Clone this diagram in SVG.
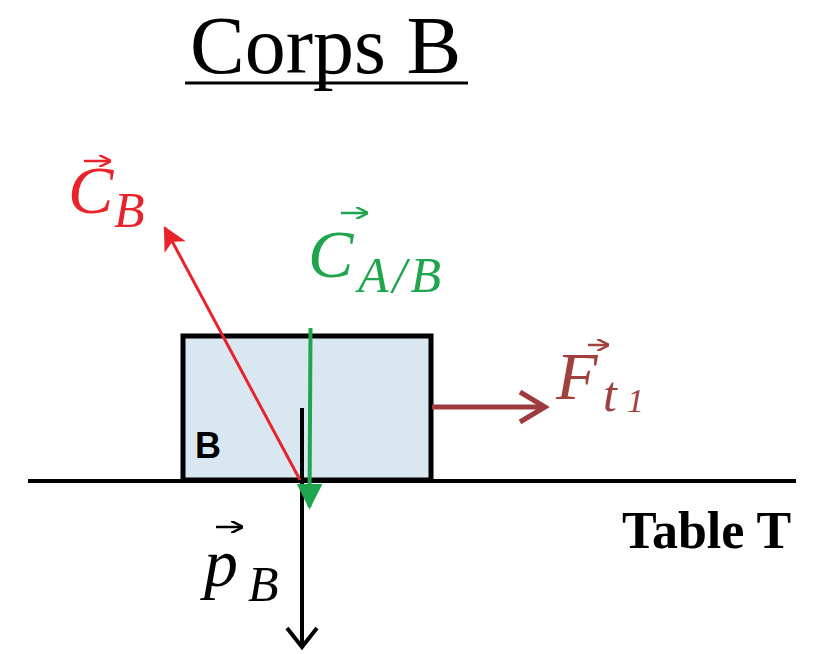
<svg xmlns="http://www.w3.org/2000/svg" width="830" height="654" viewBox="0 0 830 654">
<defs>
<style>
.math{font-family:"Liberation Serif","Times New Roman",serif;font-style:italic}
.red{fill:#e8232b}
.green{fill:#1fa54e}
.brown{fill:#a0403f}
</style>
<marker id="headRed" viewBox="0 0 10 10" refX="9" refY="5" markerWidth="8" markerHeight="8" orient="auto" markerUnits="strokeWidth">
<path d="M0,0 L10,5 L0,10 L2.5,5 Z" fill="#e8232b"/>
</marker>
<marker id="headGreen" viewBox="0 0 10 10" refX="9" refY="5" markerWidth="6.5" markerHeight="6.5" orient="auto" markerUnits="strokeWidth">
<path d="M0,0 L10,5 L0,10 Z" fill="#1fa54e"/>
</marker>
<marker id="vec" viewBox="0 0 10 10" refX="9" refY="5" markerWidth="5" markerHeight="5" orient="auto" markerUnits="strokeWidth">
<path d="M0,0 L10,5 L0,10" fill="none" stroke="context-stroke" stroke-width="2"/>
</marker>
</defs>
<rect width="830" height="654" fill="#ffffff"/>

<g id="title">
<text x="190" y="73" font-family="'Liberation Serif', serif" font-size="82" fill="#000">Corps B</text>
<line x1="185" y1="83" x2="468" y2="83" stroke="#000" stroke-width="3"/>
</g>

<g id="body-B">
<rect x="183" y="336" width="248" height="144" fill="#d9e8f0" stroke="#000" stroke-width="5"/>
<text x="195" y="458" font-family="'Liberation Sans', Arial, sans-serif" font-weight="bold" font-size="36" fill="#000">B</text>
</g>

<g id="table-T">
<line x1="28" y1="481" x2="796" y2="481" stroke="#000" stroke-width="4"/>
<text x="622" y="548" font-family="'Liberation Serif', serif" font-weight="bold" font-size="52" fill="#000">Table T</text>
</g>

<g id="connectors">
<line x1="302" y1="408" x2="302" y2="646" stroke="#000" stroke-width="4"/>
<polyline points="287,628 302,647 317,628" fill="none" stroke="#000" stroke-width="4"/>
<line x1="300" y1="480" x2="165" y2="228" stroke="#e8232b" stroke-width="3" marker-end="url(#headRed)"/>
<line x1="310.5" y1="328" x2="309.5" y2="507" stroke="#1fa54e" stroke-width="4" marker-end="url(#headGreen)"/>
<line x1="432" y1="407" x2="543" y2="407" stroke="#9e3b40" stroke-width="5"/>
<polyline points="520,392 545,407 520,422" fill="none" stroke="#9e3b40" stroke-width="5"/>
</g>

<g id="label-CB">
<line x1="84" y1="161" x2="110" y2="161" stroke="#e8232b" stroke-width="2.5" marker-end="url(#vec)"/>
<text class="math red" x="68" y="213" font-size="68">C</text>
<text class="math red" x="114" y="227" font-size="50">B</text>
</g>

<g id="label-CAB">
<line x1="341" y1="213" x2="367" y2="213" stroke="#1fa54e" stroke-width="2.5" marker-end="url(#vec)"/>
<text class="math green" x="308" y="277" font-size="68">C</text>
<text class="math green" x="358" y="292" font-size="50" letter-spacing="4">A/B</text>
</g>

<g id="label-Ft1">
<line x1="588" y1="345" x2="608" y2="345" stroke="#a0403f" stroke-width="2.5" marker-end="url(#vec)"/>
<text class="math brown" x="556" y="399" font-size="68">F</text>
<text class="math brown" x="603" y="411" font-size="50">t</text>
<text class="math brown" x="627" y="412" font-size="34">1</text>
</g>

<g id="label-pB">
<line x1="216" y1="527" x2="242" y2="527" stroke="#000" stroke-width="2.5" marker-end="url(#vec)"/>
<text class="math" x="204" y="586" font-size="68" fill="#000">p</text>
<text class="math" x="248" y="601" font-size="50" fill="#000">B</text>
</g>
</svg>
